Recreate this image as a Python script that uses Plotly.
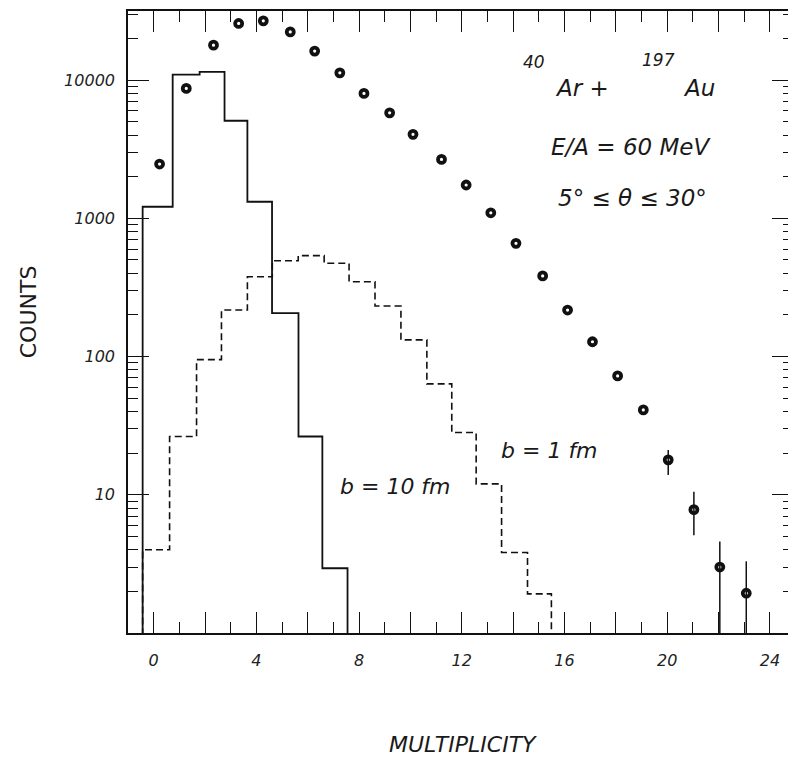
import plotly.graph_objects as go

# ---- data ----
# measured points (multiplicity, counts) with vertical error bounds
meas_mult = [0.23, 1.27, 2.33, 3.31, 4.27, 5.32, 6.27, 7.25, 8.19, 9.19, 10.1, 11.21,
             12.17, 13.13, 14.11, 15.15, 16.12, 17.09, 18.07, 19.07, 20.04, 21.04, 22.05, 23.08]
meas_counts = [2470, 8710, 17910, 25700, 26850, 22330, 16220, 11290, 8010, 5800, 4050, 2670,
               1742, 1097, 659, 383, 217, 128, 72.4, 41.1, 17.9, 7.8, 3.0, 1.94]
meas_upper = [2470, 8710, 17910, 25700, 26850, 22330, 16220, 11290, 8010, 5800, 4050, 2670,
              1742, 1097, 659, 383, 217, 128, 72.4, 41.1, 21.1, 10.5, 4.6, 3.3]
meas_lower = [2470, 8710, 17910, 25700, 26850, 22330, 16220, 11290, 8010, 5800, 4050, 2670,
              1742, 1097, 659, 383, 217, 128, 72.4, 41.1, 13.9, 5.1, 1.0, 1.0]

# calculated histogram b = 10 fm (solid): bin edges and counts
b10_edges = [-0.43, 0.74, 1.79, 2.76, 3.65, 4.61, 5.64, 6.57, 7.55]
b10_counts = [1213, 10960, 11480, 5080, 1318, 206, 26.4, 2.94]

# calculated histogram b = 1 fm (dashed): bin edges and counts
b1_edges = [-0.43, 0.62, 1.67, 2.64, 3.65, 4.62, 5.63, 6.64, 7.61, 8.62, 9.63, 10.64,
            11.61, 12.56, 13.55, 14.56, 15.49]
b1_counts = [4.0, 26.4, 95, 217, 378, 493, 537, 473, 348, 232, 132, 63.4, 28.2, 12.0, 3.82, 1.92]

x_tickvals = [0, 2, 4, 6, 8, 10, 12, 14, 16, 18, 20, 22, 24]
x_ticktext = ["0", "", "4", "", "8", "", "12", "", "16", "", "20", "", "24"]
y_tickvals = [10, 100, 1000, 10000]
y_ticktext = ["10", "100", "1000", "10000"]

FLOOR = 0.8  # below the axis bottom, so steps drop to the axis


def steps(edges, counts):
    xs, ys = [edges[0]], [FLOOR]
    for i, c in enumerate(counts):
        xs += [edges[i], edges[i + 1]]
        ys += [c, c]
    xs.append(edges[-1])
    ys.append(FLOOR)
    return xs, ys


INK = "#111111"
fig = go.Figure()

sx, sy = steps(b10_edges, b10_counts)
fig.add_trace(go.Scatter(x=sx, y=sy, mode="lines",
                         line=dict(color=INK, width=1.8), hoverinfo="skip"))
dx, dy = steps(b1_edges, b1_counts)
fig.add_trace(go.Scatter(x=dx, y=dy, mode="lines",
                         line=dict(color=INK, width=1.6, dash="7px,4px"), hoverinfo="skip"))

err_plus = [u - c for u, c in zip(meas_upper, meas_counts)]
err_minus = [c - l for l, c in zip(meas_lower, meas_counts)]
fig.add_trace(go.Scatter(
    x=meas_mult, y=meas_counts, mode="markers",
    marker=dict(symbol="circle-open", size=7, color=INK, line=dict(color=INK, width=3.8)),
    error_y=dict(type="data", symmetric=False, array=err_plus, arrayminus=err_minus,
                 color=INK, thickness=1.5, width=0),
))

tickfont = dict(family="DejaVu Sans", size=16, color="#222222", style="italic")

fig.update_xaxes(
    range=[-1.0, 24.9], showline=True, linecolor=INK, linewidth=1.6, mirror="ticks",
    ticks="inside", ticklen=21, tickwidth=1.4, tickcolor=INK,
    tickmode="array", tickvals=x_tickvals, ticktext=x_ticktext,
    tickfont=tickfont, ticklabelstandoff=12,
    minor=dict(ticks="inside", ticklen=11, tickwidth=1.2, tickcolor=INK, dtick=1, tick0=0,
               showgrid=False),
    showgrid=False, zeroline=False,
)

minor_vals = [k * 10 ** d for d in range(0, 5) for k in range(2, 10) if k * 10 ** d < 31000]
fig.update_yaxes(
    type="log", range=[0, 4.5], showline=True, linecolor=INK, linewidth=1.6, mirror="ticks",
    ticks="inside", ticklen=21, tickwidth=1.4, tickcolor=INK,
    tickmode="array", tickvals=y_tickvals, ticktext=y_ticktext,
    tickfont=tickfont, ticklabelstandoff=8,
    minor=dict(ticks="inside", ticklen=10, tickwidth=1.2, tickcolor=INK,
               tickmode="array", tickvals=minor_vals, showgrid=False),
    showgrid=False, zeroline=False,
)

TXT = "#1a1a1a"
def ann(text, x, y, size, italic=True, angle=0, xanchor="center"):
    fig.add_annotation(text=text, x=x, y=y, xref="paper", yref="paper",
                       showarrow=False, textangle=angle, xanchor=xanchor, yanchor="middle",
                       font=dict(family="DejaVu Sans", size=size, color=TXT,
                                 style="italic" if italic else "normal"))

ann("40", 0.610, 0.918, 17)
ann("Ar +", 0.682, 0.876, 23)
ann("197", 0.798, 0.921, 17)
ann("Au", 0.858, 0.876, 23)
ann("E/A = 60 MeV", 0.757, 0.781, 23)
ann("5° ≤ θ ≤ 30°", 0.759, 0.699, 23)
ann("b = 1 fm", 0.634, 0.294, 22)
ann("b = 10 fm", 0.403, 0.235, 22)
ann("MULTIPLICITY", 0.504, -0.180, 22)
ann("COUNTS", -0.150, 0.516, 22, italic=False, angle=-90)

# the page body adds an 8px offset, so the figure is sized/margined to compensate
fig.update_layout(
    width=788, height=753, showlegend=False,
    margin=dict(l=120, r=1, t=3, b=128),
    paper_bgcolor="white", plot_bgcolor="white",
)

fig.write_html("out.html")
